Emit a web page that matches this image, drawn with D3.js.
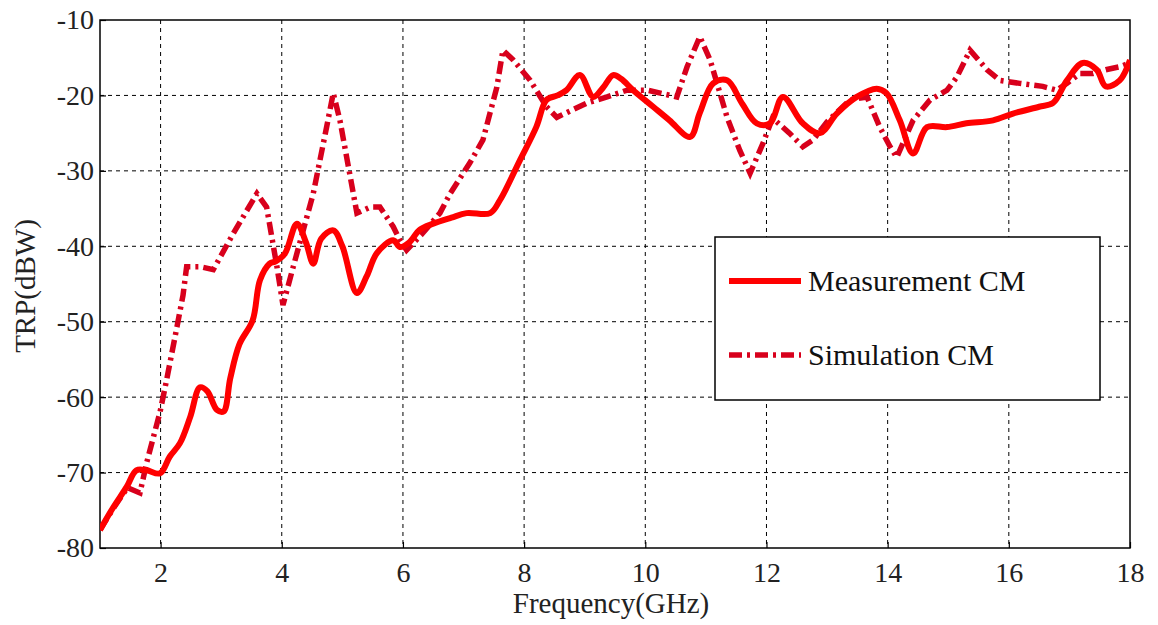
<!DOCTYPE html>
<html>
<head>
<meta charset="utf-8">
<script src="https://cdn.jsdelivr.net/npm/d3@7"></script>
<style>
  body { margin: 0; background: #fff; }
  text { font-family: "Liberation Serif", "Times New Roman", serif; }
</style>
</head>
<body>
<svg id="chart" width="1158" height="625"></svg>
<script>
// Measurement CM (solid)
const measFreq = [1.0, 1.22, 1.44, 1.6, 1.77, 1.99, 2.15, 2.32, 2.49, 2.65, 2.77, 2.93, 3.04, 3.15, 3.3,
  3.52, 3.64, 3.8, 3.9, 4.05, 4.25, 4.4, 4.52, 4.65, 4.85, 5.0, 5.24, 5.4, 5.57, 5.84, 5.95, 6.1, 6.28,
  6.5, 6.8, 7.05, 7.44, 7.6, 7.93, 8.2, 8.37, 8.55, 8.7, 8.92, 9.14, 9.3, 9.47, 9.6, 9.8, 10.13, 10.4,
  10.74, 10.9, 11.12, 11.35, 11.6, 11.84, 12.06, 12.27, 12.6, 12.88, 13.16, 13.49, 13.82, 13.98, 14.2,
  14.42, 14.65, 14.98, 15.3, 15.74, 16.07, 16.5, 16.73, 16.96, 17.22, 17.45, 17.6, 17.83, 18.0]
const measVal = [-77.6, -74.6, -71.9, -69.7, -69.7, -70.1, -67.9, -66.1, -62.6, -58.7, -59.2, -61.7, -61.9,
  -57.5, -53, -49.8, -44.5, -42.3, -42, -41, -37, -39.5, -42.3, -39, -37.9, -40, -46.2, -44, -40.9, -39.2,
  -40.1, -39.5, -37.8, -37, -36.2, -35.6, -35.6, -33.9, -28.6, -24.2, -20.6, -20.0, -19.3, -17.3, -20.2,
  -19, -17.3, -17.8, -19.3, -21.5, -23.3, -25.5, -22.3, -18.4, -18, -21.1, -23.7, -23.7, -20.2, -23.7,
  -25, -22.4, -20.2, -19.1, -19.7, -23.3, -27.7, -24.2, -24.2, -23.7, -23.3, -22.4, -21.5, -21, -18,
  -15.7, -16.6, -18.8, -18, -15.3]

// Simulation CM (dash-dot)
const simFreq = [1.0, 1.2, 1.45, 1.66, 1.77, 1.99, 2.1, 2.27, 2.37, 2.43, 2.65, 2.87, 3.2, 3.59, 3.75,
  3.92, 4.02, 4.19, 4.35, 4.52, 4.74, 4.85, 4.96, 5.24, 5.46, 5.62, 5.84, 5.95, 6.06, 6.3, 6.61, 6.78,
  7.1, 7.32, 7.55, 7.65, 7.82, 8.1, 8.37, 8.54, 9.04, 9.37, 9.7, 10.03, 10.52, 10.69, 10.9, 11.07, 11.35,
  11.56, 11.73, 11.94, 12.1, 12.38, 12.6, 12.77, 13.0, 13.38, 13.66, 13.87, 14.04, 14.15, 14.42, 14.7,
  14.98, 15.14, 15.36, 15.64, 15.85, 16.18, 16.56, 16.79, 16.96, 17.17, 17.39, 17.6, 17.83, 18.0]
const simVal = [-77.6, -75, -72, -72.7, -68.7, -62, -57.7, -50.7, -46.5, -42.7, -42.7, -43.1, -38.3, -33,
  -34.8, -42.7, -47.8, -42.7, -38, -33, -24.2, -19.7, -23.3, -35.6, -34.8, -34.8, -37.4, -39.2, -40.5,
  -38.5, -35.6, -33, -29, -25.9, -18.9, -14, -15.3, -18, -21.5, -22.9, -21, -20.2, -19.3, -19.3, -20.2,
  -16.2, -12.2, -15.3, -22.9, -27.3, -30.3, -26.4, -23, -25, -26.8, -25.9, -23.5, -20.6, -20.2, -24.2,
  -26.8, -28.2, -23.3, -20.6, -19.3, -17.6, -14, -16.6, -18, -18.4, -18.8, -19.3, -18.4, -17.1, -17.1,
  -16.6, -16.2, -15.7]

const xTicks = [2, 4, 6, 8, 10, 12, 14, 16, 18]
const yTicks = [-80, -70, -60, -50, -40, -30, -20, -10]
const seriesNames = ['Measurement CM', 'Simulation CM']

const margin = { top: 20, right: 28, bottom: 77, left: 100 }
const width = 1158 - margin.left - margin.right
const height = 625 - margin.top - margin.bottom

const svg = d3.select('#chart')
svg.append('rect').attr('width', 1158).attr('height', 625).attr('fill', '#fff')

const g = svg.append('g').attr('transform', `translate(${margin.left},${margin.top})`)

const x = d3.scaleLinear().domain([1, 18]).range([0, width])
const y = d3.scaleLinear().domain([-80, -10]).range([height, 0])

// grid
g.selectAll('.vgrid')
  .data(xTicks.filter((d) => d < 18))
  .enter()
  .append('line')
  .attr('x1', (d) => x(d)).attr('x2', (d) => x(d))
  .attr('y1', 0).attr('y2', height)
  .attr('stroke', '#000').attr('stroke-width', 1).attr('stroke-dasharray', '4,4')

g.selectAll('.hgrid')
  .data(yTicks.filter((d) => d > -80 && d < -10))
  .enter()
  .append('line')
  .attr('x1', 0).attr('x2', width)
  .attr('y1', (d) => y(d)).attr('y2', (d) => y(d))
  .attr('stroke', '#000').attr('stroke-width', 1).attr('stroke-dasharray', '4,4')

// axes
const xAxis = g.append('g')
  .attr('transform', `translate(0,${height})`)
  .call(d3.axisBottom(x).tickValues(xTicks).tickSize(-6).tickPadding(14).tickFormat((d) => String(d)))
const yAxis = g.append('g')
  .call(d3.axisLeft(y).tickValues(yTicks).tickSize(-6).tickPadding(6).tickFormat((d) => String(d)))

;[xAxis, yAxis].forEach((a) => {
  a.select('.domain').remove()
  a.selectAll('line').attr('stroke', '#000').attr('stroke-width', 1.2)
  a.selectAll('text')
    .attr('font-size', '28px')
    .attr('fill', '#222')
    .style('font-family', '"Liberation Serif", serif')
})
xAxis.selectAll('text').attr('dy', '0.71em')

// frame
g.append('rect')
  .attr('width', width).attr('height', height)
  .attr('fill', 'none').attr('stroke', '#000').attr('stroke-width', 1.5)

// lines
const measData = measFreq.map((f, i) => [f, measVal[i]])
const simData = simFreq.map((f, i) => [f, simVal[i]])

const clip = g.append('clipPath').attr('id', 'clip')
clip.append('rect').attr('width', width).attr('height', height)

const lineSmooth = d3.line()
  .x((d) => x(d[0])).y((d) => y(d[1]))
  .curve(d3.curveCatmullRom.alpha(0.5))
const lineStraight = d3.line()
  .x((d) => x(d[0])).y((d) => y(d[1]))

g.append('path')
  .datum(simData)
  .attr('clip-path', 'url(#clip)')
  .attr('d', lineStraight)
  .attr('fill', 'none')
  .attr('stroke', '#d8001c')
  .attr('stroke-width', 5.5)
  .attr('stroke-dasharray', '13,5,3,5')

g.append('path')
  .datum(measData)
  .attr('clip-path', 'url(#clip)')
  .attr('d', lineSmooth)
  .attr('fill', 'none')
  .attr('stroke', '#ff0000')
  .attr('stroke-width', 6)
  .attr('stroke-linejoin', 'round')

// legend
const legend = svg.append('g').attr('transform', 'translate(715,237)')
legend.append('rect')
  .attr('width', 385).attr('height', 163)
  .attr('fill', '#fff').attr('stroke', '#000').attr('stroke-width', 1.5)

const legendStyles = [
  { stroke: '#ff0000', dash: null, w: 6 },
  { stroke: '#d8001c', dash: '13,5,3,5', w: 5.5 }
]
seriesNames.forEach((name, i) => {
  const row = legend.append('g').attr('transform', `translate(0,${44 + i * 74})`)
  row.append('line')
    .attr('x1', 14).attr('x2', 86)
    .attr('stroke', legendStyles[i].stroke)
    .attr('stroke-width', legendStyles[i].w)
    .attr('stroke-dasharray', legendStyles[i].dash)
  row.append('text')
    .attr('x', 93).attr('y', 10)
    .attr('font-size', '30px')
    .attr('fill', '#111')
    .text(name)
})

// axis titles
svg.append('text')
  .attr('x', 611).attr('y', 613)
  .attr('text-anchor', 'middle')
  .attr('font-size', '29px')
  .attr('fill', '#222')
  .text('Frequency(GHz)')

svg.append('text')
  .attr('transform', 'translate(35,286) rotate(-90)')
  .attr('text-anchor', 'middle')
  .attr('font-size', '29px')
  .attr('fill', '#222')
  .text('TRP(dBW)')
</script>
</body>
</html>
